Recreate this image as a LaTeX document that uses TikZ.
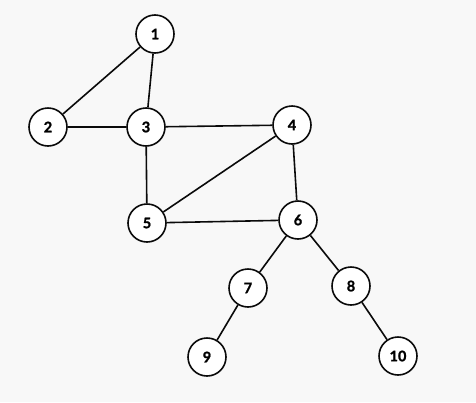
\documentclass[tikz,border=0pt]{standalone}
\usepackage{fontspec}
\setmainfont{Lato}
\usepackage{tikz}
\definecolor{bgcolor}{RGB}{248, 248, 248}
\definecolor{edgecolor}{RGB}{10, 10, 10}
\tikzset{
vertex/.style={
  circle,
  draw=edgecolor,
  fill=white,
  line width=1.6pt,
  minimum size=38pt,
  inner sep=0pt,
  font=\fontsize{14.5}{16}\selectfont\bfseries\addfontfeatures{FakeBold=1.3}
},
edge/.style={
  line width=1.6pt,
  draw=edgecolor
}
}
\begin{document}
\begin{tikzpicture}[x=1pt, y=-1pt]
      % Canvas
      \fill[bgcolor] (0,0) rectangle (476,402);
      \useasboundingbox (0,0) rectangle (476,402);

      % Vertices
      \node[vertex] (v1) at (155,34) {1};
      \node[vertex] (v2) at (48,127) {2};
      \node[vertex] (v3) at (146,127) {3};
      \node[vertex] (v4) at (292,125) {4};
      \node[vertex] (v5) at (147,223) {5};
      \node[vertex] (v6) at (298,220) {6};
      \node[vertex] (v7) at (248,288) {7};
      \node[vertex] (v8) at (351,286) {8};
      \node[vertex] (v9) at (207,357) {9};
      \node[vertex] (v10) at (398,356) {10};

      % Edges
      \draw[edge] (v1) -- (v2);
      \draw[edge] (v1) -- (v3);
      \draw[edge] (v2) -- (v3);
      \draw[edge] (v3) -- (v4);
      \draw[edge] (v3) -- (v5);
      \draw[edge] (v4) -- (v5);
      \draw[edge] (v4) -- (v6);
      \draw[edge] (v5) -- (v6);
      \draw[edge] (v6) -- (v7);
      \draw[edge] (v6) -- (v8);
      \draw[edge] (v7) -- (v9);
      \draw[edge] (v8) -- (v10);
\end{tikzpicture}
\end{document}
